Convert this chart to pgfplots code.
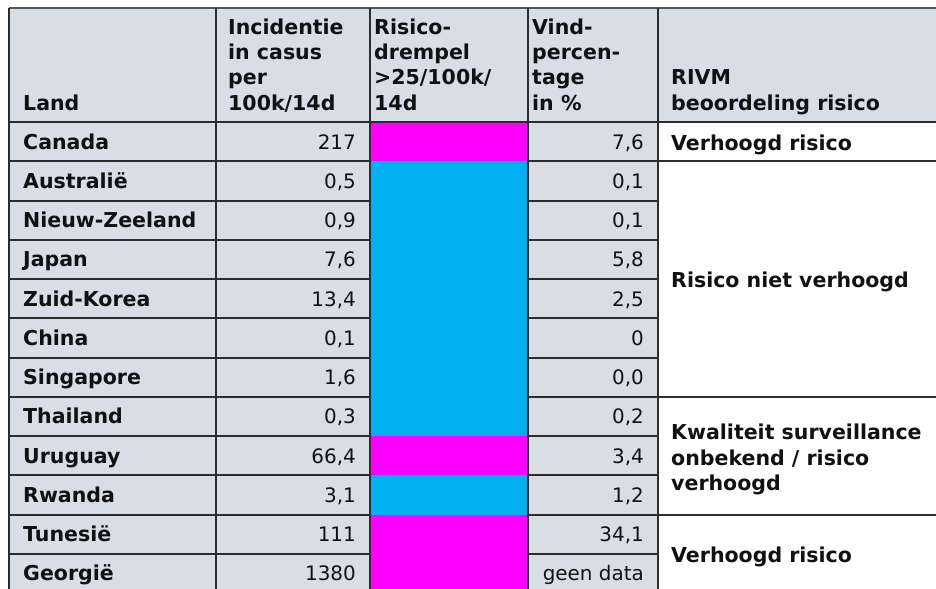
\documentclass[border=0pt]{standalone}
\usepackage{pgfplots}
\pgfplotsset{compat=1.18}
\usepackage{fontspec}
\setmainfont{DejaVu Sans}
\definecolor{hdr}{RGB}{216,221,230}
\definecolor{mag}{RGB}{255,0,255}
\definecolor{cya}{RGB}{0,176,240}
\definecolor{gridc}{RGB}{45,45,45}
\definecolor{txt}{RGB}{17,17,17}
\newcommand{\row}[4]{%
  \node[inner sep=0pt,anchor=base west,text=txt,font=\fontsize{20.6}{25}\selectfont\bfseries] at (axis cs:23,{149+39.27*#1}) {#2};
  \node[inner sep=0pt,anchor=base east,text=txt,font=\fontsize{20}{25}\selectfont] at (axis cs:356,{149+39.27*#1}) {#3};
  \node[inner sep=0pt,anchor=base east,text=txt,font=\fontsize{20}{25}\selectfont] at (axis cs:644,{149+39.27*#1}) {#4};
}
\begin{document}
\begin{tikzpicture}
\begin{axis}[width=936bp,height=589bp,scale only axis,
  xmin=0,xmax=936,ymin=0,ymax=589,y dir=reverse,hide axis,clip=true]
% backgrounds
\fill[hdr] (axis cs:9,8) rectangle (axis cs:936,122);
\fill[hdr] (axis cs:9,122) rectangle (axis cs:658,589);
% risk-threshold cells (row tops: 122 + 39.27 i)
\addplot[fill=mag,draw=none,mark=none] coordinates {(370,122) (528,122) (528,161.3) (370,161.3)};
\addplot[fill=cya,draw=none,mark=none] coordinates {(370,161.3) (528,161.3) (528,436.2) (370,436.2)};
\addplot[fill=mag,draw=none,mark=none] coordinates {(370,436.2) (528,436.2) (528,475.4) (370,475.4)};
\addplot[fill=cya,draw=none,mark=none] coordinates {(370,475.4) (528,475.4) (528,514.7) (370,514.7)};
\addplot[fill=mag,draw=none,mark=none] coordinates {(370,514.7) (528,514.7) (528,593.2) (370,593.2)};
% grid lines
\draw[gridc!80,line width=1.6bp] (axis cs:9,8) -- (axis cs:936,8);
\draw[gridc,line width=2bp] (axis cs:9,122) -- (axis cs:936,122);
\pgfplotsinvokeforeach{1,...,11}{
  \draw[gridc,line width=2bp] (axis cs:9,{122+39.27*#1}) -- (axis cs:370,{122+39.27*#1});
  \draw[gridc,line width=2bp] (axis cs:528,{122+39.27*#1}) -- (axis cs:658,{122+39.27*#1});
}
\draw[gridc,line width=2bp] (axis cs:658,161.3) -- (axis cs:936,161.3);
\draw[gridc,line width=2bp] (axis cs:658,396.9) -- (axis cs:936,396.9);
\draw[gridc,line width=2bp] (axis cs:658,514.7) -- (axis cs:936,514.7);
\pgfplotsinvokeforeach{9,216,370,528,658}{
  \draw[gridc,line width=2bp] (axis cs:#1,8) -- (axis cs:#1,589);
}
% header text
\begin{scope}[every node/.style={inner sep=0pt,anchor=base west,text=txt,font=\fontsize{20.6}{25}\selectfont\bfseries}]
\node at (axis cs:23,110) {Land};
\node at (axis cs:228,35) {Incidentie};
\node at (axis cs:228,60) {in casus};
\node at (axis cs:228,85) {per};
\node at (axis cs:228,110) {100k/14d};
\node at (axis cs:374,35) {Risico-};
\node at (axis cs:374,60) {drempel};
\node at (axis cs:374,85) {>25/100k/};
\node at (axis cs:374,110) {14d};
\node at (axis cs:532,35) {Vind-};
\node at (axis cs:532,60) {percen-};
\node at (axis cs:532,85) {tage};
\node at (axis cs:532,110) {in \%};
\node at (axis cs:671,85) {RIVM};
\node at (axis cs:671,110) {beoordeling risico};
% column 5
\node at (axis cs:671,150) {Verhoogd risico};
\node at (axis cs:671,287) {Risico niet verhoogd};
\node at (axis cs:671,439) {Kwaliteit surveillance};
\node at (axis cs:671,465) {onbekend / risico};
\node at (axis cs:671,490) {verhoogd};
\node at (axis cs:671,562) {Verhoogd risico};
\end{scope}
% body rows
\row{0}{Canada}{217}{7,6}
\row{1}{Australië}{0,5}{0,1}
\row{2}{Nieuw-Zeeland}{0,9}{0,1}
\row{3}{Japan}{7,6}{5,8}
\row{4}{Zuid-Korea}{13,4}{2,5}
\row{5}{China}{0,1}{0}
\row{6}{Singapore}{1,6}{0,0}
\row{7}{Thailand}{0,3}{0,2}
\row{8}{Uruguay}{66,4}{3,4}
\row{9}{Rwanda}{3,1}{1,2}
\row{10}{Tunesië}{111}{34,1}
\row{11}{Georgië}{1380}{geen data}
\end{axis}
\pgfresetboundingbox
\path (current axis.south west) rectangle (current axis.north east);
\end{tikzpicture}
\end{document}
